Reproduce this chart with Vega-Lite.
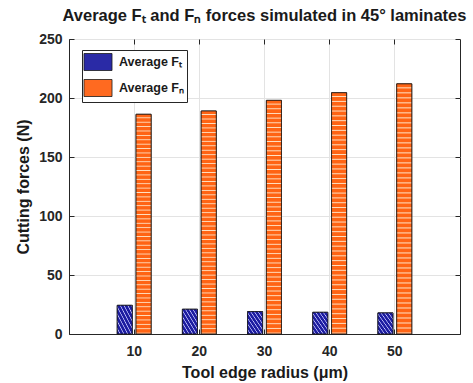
{
  "$schema": "https://vega.github.io/schema/vega-lite/v6.json",
  "width": 391,
  "height": 295,
  "autosize": "none",
  "padding": {"left": 69, "top": 39, "right": 13, "bottom": 49},
  "background": "white",
  "title": {
    "text": "Average Fₜ and Fₙ forces simulated in 45° laminates",
    "font": "Liberation Sans",
    "fontSize": 16.5,
    "fontWeight": "bold",
    "color": "#1a1a1a",
    "anchor": "middle",
    "offset": 8
  },
  "data": {
    "values": [
      {"radius": 10, "comp": "T", "series": "Average Fₜ", "force": 24.3},
      {"radius": 10, "comp": "N", "series": "Average Fₙ", "force": 186.2},
      {"radius": 20, "comp": "T", "series": "Average Fₜ", "force": 21.0},
      {"radius": 20, "comp": "N", "series": "Average Fₙ", "force": 189.0},
      {"radius": 30, "comp": "T", "series": "Average Fₜ", "force": 19.0},
      {"radius": 30, "comp": "N", "series": "Average Fₙ", "force": 198.0},
      {"radius": 40, "comp": "T", "series": "Average Fₜ", "force": 18.4},
      {"radius": 40, "comp": "N", "series": "Average Fₙ", "force": 204.5},
      {"radius": 50, "comp": "T", "series": "Average Fₜ", "force": 17.9},
      {"radius": 50, "comp": "N", "series": "Average Fₙ", "force": 212.0}
    ]
  },
  "encoding": {
    "x": {
      "field": "radius",
      "type": "ordinal",
      "scale": {"domain": [10, 20, 30, 40, 50], "paddingInner": 0.48, "paddingOuter": 0.74},
      "axis": {
        "title": "Tool edge radius (μm)",
        "labelAngle": 0,
        "grid": true,
        "bandPosition": 0.5,
        "labelPadding": 15,
        "titlePadding": 6
      }
    },
    "xOffset": {
      "field": "comp",
      "type": "nominal",
      "scale": {"domain": ["T", "N"], "paddingInner": 0.2, "paddingOuter": 0}
    },
    "y": {
      "field": "force",
      "type": "quantitative",
      "scale": {"domain": [0, 250], "nice": false},
      "axis": {
        "title": "Cutting forces (N)",
        "values": [0, 50, 100, 150, 200, 250],
        "grid": true,
        "labelPadding": 12,
        "titlePadding": 7
      }
    }
  },
  "layer": [
    {
      "mark": {"type": "bar", "stroke": "#1a1a1a", "strokeWidth": 0.8},
      "encoding": {
        "fill": {
          "field": "series",
          "type": "nominal",
          "scale": {"domain": ["Average Fₜ", "Average Fₙ"], "range": ["#2a2aa6", "#ff6a20"]},
          "legend": {
            "title": null,
            "orient": "none",
            "legendX": 13,
            "legendY": 11,
            "symbolType": "M-1.65,-1H1.65V1H-1.65Z",
            "symbolSize": 289,
            "symbolStrokeColor": "#1a1a1a",
            "symbolStrokeWidth": 0.8,
            "symbolOffset": 4,
            "labelFont": "Liberation Sans",
            "labelFontSize": 12.5,
            "labelFontWeight": "bold",
            "labelColor": "#1a1a1a",
            "strokeColor": "#262626",
            "fillColor": "white",
            "padding": 3,
            "rowPadding": 4,
            "labelOffset": 12
          }
        }
      }
    },
    {
      "mark": {"type": "bar", "stroke": "#1a1a1a", "strokeWidth": 0.8},
      "encoding": {
        "x": {
          "field": "radius",
          "type": "ordinal",
          "axis": {"orient": "top", "labels": false, "title": null, "grid": false, "domain": false, "bandPosition": 0.5}
        },
        "y": {
          "field": "force",
          "type": "quantitative",
          "axis": {"orient": "right", "labels": false, "title": null, "grid": false, "domain": false, "values": [0, 50, 100, 150, 200, 250]}
        },
        "fill": {
          "condition": {
            "test": "datum.comp === 'T'",
            "value": {
              "gradient": "linear", "x1": 0, "y1": 1, "x2": 1, "y2": 0,
              "stops": [
                {"offset": 0, "color": "#1c1ca0"}, {"offset": 0.07, "color": "#1c1ca0"}, {"offset": 0.1, "color": "#c8c8ff"},
                {"offset": 0.125, "color": "#1c1ca0"}, {"offset": 0.195, "color": "#1c1ca0"}, {"offset": 0.225, "color": "#c8c8ff"},
                {"offset": 0.25, "color": "#1c1ca0"}, {"offset": 0.32, "color": "#1c1ca0"}, {"offset": 0.35, "color": "#c8c8ff"},
                {"offset": 0.375, "color": "#1c1ca0"}, {"offset": 0.445, "color": "#1c1ca0"}, {"offset": 0.475, "color": "#c8c8ff"},
                {"offset": 0.5, "color": "#1c1ca0"}, {"offset": 0.57, "color": "#1c1ca0"}, {"offset": 0.6, "color": "#c8c8ff"},
                {"offset": 0.625, "color": "#1c1ca0"}, {"offset": 0.695, "color": "#1c1ca0"}, {"offset": 0.725, "color": "#c8c8ff"},
                {"offset": 0.75, "color": "#1c1ca0"}, {"offset": 0.82, "color": "#1c1ca0"}, {"offset": 0.85, "color": "#c8c8ff"},
                {"offset": 0.875, "color": "#1c1ca0"}, {"offset": 0.945, "color": "#1c1ca0"}, {"offset": 0.975, "color": "#c8c8ff"},
                {"offset": 1, "color": "#1c1ca0"}
              ]
            }
          },
          "value": {
            "gradient": "linear", "x1": 0, "y1": 0, "x2": 0, "y2": 1,
            "stops": [
              {"offset": 0, "color": "#ff6414"}, {"offset": 0.012, "color": "#ff6414"}, {"offset": 0.016, "color": "#ffe2c4"},
              {"offset": 0.02, "color": "#ff6414"}, {"offset": 0.032, "color": "#ff6414"}, {"offset": 0.036, "color": "#ffe2c4"},
              {"offset": 0.04, "color": "#ff6414"}, {"offset": 0.052, "color": "#ff6414"}, {"offset": 0.056, "color": "#ffe2c4"},
              {"offset": 0.06, "color": "#ff6414"}, {"offset": 0.072, "color": "#ff6414"}, {"offset": 0.076, "color": "#ffe2c4"},
              {"offset": 0.08, "color": "#ff6414"}, {"offset": 0.092, "color": "#ff6414"}, {"offset": 0.096, "color": "#ffe2c4"},
              {"offset": 0.1, "color": "#ff6414"}, {"offset": 0.112, "color": "#ff6414"}, {"offset": 0.116, "color": "#ffe2c4"},
              {"offset": 0.12, "color": "#ff6414"}, {"offset": 0.132, "color": "#ff6414"}, {"offset": 0.136, "color": "#ffe2c4"},
              {"offset": 0.14, "color": "#ff6414"}, {"offset": 0.152, "color": "#ff6414"}, {"offset": 0.156, "color": "#ffe2c4"},
              {"offset": 0.16, "color": "#ff6414"}, {"offset": 0.172, "color": "#ff6414"}, {"offset": 0.176, "color": "#ffe2c4"},
              {"offset": 0.18, "color": "#ff6414"}, {"offset": 0.192, "color": "#ff6414"}, {"offset": 0.196, "color": "#ffe2c4"},
              {"offset": 0.2, "color": "#ff6414"}, {"offset": 0.212, "color": "#ff6414"}, {"offset": 0.216, "color": "#ffe2c4"},
              {"offset": 0.22, "color": "#ff6414"}, {"offset": 0.232, "color": "#ff6414"}, {"offset": 0.236, "color": "#ffe2c4"},
              {"offset": 0.24, "color": "#ff6414"}, {"offset": 0.252, "color": "#ff6414"}, {"offset": 0.256, "color": "#ffe2c4"},
              {"offset": 0.26, "color": "#ff6414"}, {"offset": 0.272, "color": "#ff6414"}, {"offset": 0.276, "color": "#ffe2c4"},
              {"offset": 0.28, "color": "#ff6414"}, {"offset": 0.292, "color": "#ff6414"}, {"offset": 0.296, "color": "#ffe2c4"},
              {"offset": 0.3, "color": "#ff6414"}, {"offset": 0.312, "color": "#ff6414"}, {"offset": 0.316, "color": "#ffe2c4"},
              {"offset": 0.32, "color": "#ff6414"}, {"offset": 0.332, "color": "#ff6414"}, {"offset": 0.336, "color": "#ffe2c4"},
              {"offset": 0.34, "color": "#ff6414"}, {"offset": 0.352, "color": "#ff6414"}, {"offset": 0.356, "color": "#ffe2c4"},
              {"offset": 0.36, "color": "#ff6414"}, {"offset": 0.372, "color": "#ff6414"}, {"offset": 0.376, "color": "#ffe2c4"},
              {"offset": 0.38, "color": "#ff6414"}, {"offset": 0.392, "color": "#ff6414"}, {"offset": 0.396, "color": "#ffe2c4"},
              {"offset": 0.4, "color": "#ff6414"}, {"offset": 0.412, "color": "#ff6414"}, {"offset": 0.416, "color": "#ffe2c4"},
              {"offset": 0.42, "color": "#ff6414"}, {"offset": 0.432, "color": "#ff6414"}, {"offset": 0.436, "color": "#ffe2c4"},
              {"offset": 0.44, "color": "#ff6414"}, {"offset": 0.452, "color": "#ff6414"}, {"offset": 0.456, "color": "#ffe2c4"},
              {"offset": 0.46, "color": "#ff6414"}, {"offset": 0.472, "color": "#ff6414"}, {"offset": 0.476, "color": "#ffe2c4"},
              {"offset": 0.48, "color": "#ff6414"}, {"offset": 0.492, "color": "#ff6414"}, {"offset": 0.496, "color": "#ffe2c4"},
              {"offset": 0.5, "color": "#ff6414"}, {"offset": 0.512, "color": "#ff6414"}, {"offset": 0.516, "color": "#ffe2c4"},
              {"offset": 0.52, "color": "#ff6414"}, {"offset": 0.532, "color": "#ff6414"}, {"offset": 0.536, "color": "#ffe2c4"},
              {"offset": 0.54, "color": "#ff6414"}, {"offset": 0.552, "color": "#ff6414"}, {"offset": 0.556, "color": "#ffe2c4"},
              {"offset": 0.56, "color": "#ff6414"}, {"offset": 0.572, "color": "#ff6414"}, {"offset": 0.576, "color": "#ffe2c4"},
              {"offset": 0.58, "color": "#ff6414"}, {"offset": 0.592, "color": "#ff6414"}, {"offset": 0.596, "color": "#ffe2c4"},
              {"offset": 0.6, "color": "#ff6414"}, {"offset": 0.612, "color": "#ff6414"}, {"offset": 0.616, "color": "#ffe2c4"},
              {"offset": 0.62, "color": "#ff6414"}, {"offset": 0.632, "color": "#ff6414"}, {"offset": 0.636, "color": "#ffe2c4"},
              {"offset": 0.64, "color": "#ff6414"}, {"offset": 0.652, "color": "#ff6414"}, {"offset": 0.656, "color": "#ffe2c4"},
              {"offset": 0.66, "color": "#ff6414"}, {"offset": 0.672, "color": "#ff6414"}, {"offset": 0.676, "color": "#ffe2c4"},
              {"offset": 0.68, "color": "#ff6414"}, {"offset": 0.692, "color": "#ff6414"}, {"offset": 0.696, "color": "#ffe2c4"},
              {"offset": 0.7, "color": "#ff6414"}, {"offset": 0.712, "color": "#ff6414"}, {"offset": 0.716, "color": "#ffe2c4"},
              {"offset": 0.72, "color": "#ff6414"}, {"offset": 0.732, "color": "#ff6414"}, {"offset": 0.736, "color": "#ffe2c4"},
              {"offset": 0.74, "color": "#ff6414"}, {"offset": 0.752, "color": "#ff6414"}, {"offset": 0.756, "color": "#ffe2c4"},
              {"offset": 0.76, "color": "#ff6414"}, {"offset": 0.772, "color": "#ff6414"}, {"offset": 0.776, "color": "#ffe2c4"},
              {"offset": 0.78, "color": "#ff6414"}, {"offset": 0.792, "color": "#ff6414"}, {"offset": 0.796, "color": "#ffe2c4"},
              {"offset": 0.8, "color": "#ff6414"}, {"offset": 0.812, "color": "#ff6414"}, {"offset": 0.816, "color": "#ffe2c4"},
              {"offset": 0.82, "color": "#ff6414"}, {"offset": 0.832, "color": "#ff6414"}, {"offset": 0.836, "color": "#ffe2c4"},
              {"offset": 0.84, "color": "#ff6414"}, {"offset": 0.852, "color": "#ff6414"}, {"offset": 0.856, "color": "#ffe2c4"},
              {"offset": 0.86, "color": "#ff6414"}, {"offset": 0.872, "color": "#ff6414"}, {"offset": 0.876, "color": "#ffe2c4"},
              {"offset": 0.88, "color": "#ff6414"}, {"offset": 0.892, "color": "#ff6414"}, {"offset": 0.896, "color": "#ffe2c4"},
              {"offset": 0.9, "color": "#ff6414"}, {"offset": 0.912, "color": "#ff6414"}, {"offset": 0.916, "color": "#ffe2c4"},
              {"offset": 0.92, "color": "#ff6414"}, {"offset": 0.932, "color": "#ff6414"}, {"offset": 0.936, "color": "#ffe2c4"},
              {"offset": 0.94, "color": "#ff6414"}, {"offset": 0.952, "color": "#ff6414"}, {"offset": 0.956, "color": "#ffe2c4"},
              {"offset": 0.96, "color": "#ff6414"}, {"offset": 0.972, "color": "#ff6414"}, {"offset": 0.976, "color": "#ffe2c4"},
              {"offset": 0.98, "color": "#ff6414"}, {"offset": 0.992, "color": "#ff6414"}, {"offset": 0.996, "color": "#ffe2c4"},
              {"offset": 1, "color": "#ff6414"}
            ]
          }
        }
      }
    }
  ],
  "resolve": {"axis": {"x": "independent", "y": "independent"}},
  "config": {
    "view": {"stroke": "#262626", "strokeWidth": 1},
    "axis": {
      "labelFont": "Liberation Sans",
      "labelFontSize": 14,
      "labelFontWeight": "bold",
      "labelColor": "#262626",
      "titleFont": "Liberation Sans",
      "titleFontSize": 16,
      "titleFontWeight": "bold",
      "titleColor": "#1a1a1a",
      "tickColor": "#262626",
      "tickSize": -5,
      "domainColor": "#262626",
      "gridColor": "#e3e3e3",
      "gridWidth": 1
    }
  }
}
